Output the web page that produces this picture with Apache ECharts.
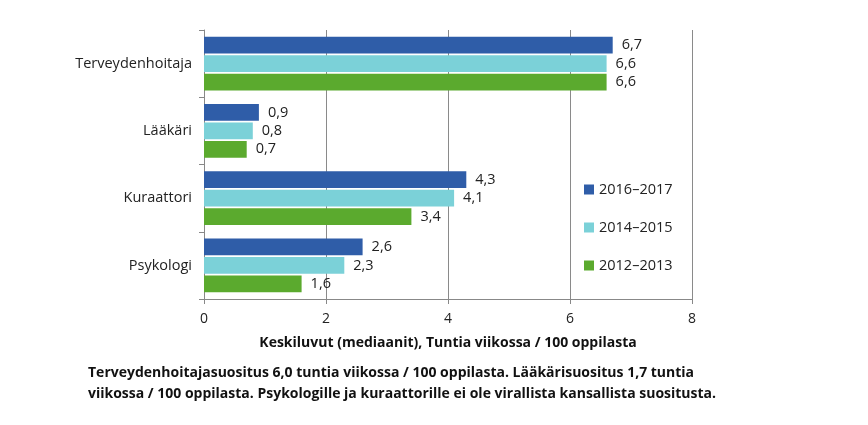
<!DOCTYPE html>
<html><head><meta charset="utf-8">
<script src="https://cdn.jsdelivr.net/npm/echarts@6/dist/echarts.min.js"></script>
<style>html,body{margin:0;padding:0;background:#fff}#c{width:868px;height:425px}</style>
</head><body><div id="c"></div>
<script>
const categories = ['Terveydenhoitaja', 'Lääkäri', 'Kuraattori', 'Psykologi'];
const seriesNames = ['2016–2017', '2014–2015', '2012–2013'];
const v2016 = [6.7, 0.9, 4.3, 2.6];
const v2014 = [6.6, 0.8, 4.1, 2.3];
const v2012 = [6.6, 0.7, 3.4, 1.6];
const xTicks = [0, 2, 4, 6, 8];
const xTitle = 'Keskiluvut (mediaanit), Tuntia viikossa / 100 oppilasta';
const footnote = ['Terveydenhoitajasuositus 6,0 tuntia viikossa / 100 oppilasta. Lääkärisuositus 1,7 tuntia',
  'viikossa / 100 oppilasta. Psykologille ja kuraattorille ei ole virallista kansallista suositusta.'];

const colors = ['#2F5DA8', '#7BD1D8', '#5BAA2E'];
const font = '"Open Sans", Lato, sans-serif';
const values = [v2016, v2014, v2012];
const chart = echarts.init(document.getElementById('c'));
chart.setOption({
  animation: false,
  textStyle: { fontFamily: font },
  grid: { left: 204, right: 176, top: 30, bottom: 126 },
  legend: {
    orient: 'vertical', left: 579, top: 177, itemGap: 23,
    itemWidth: 10, itemHeight: 10, icon: 'rect',
    textStyle: { fontSize: 14.5, color: '#222', fontFamily: font },
    data: seriesNames
  },
  xAxis: {
    type: 'value', min: xTicks[0], max: xTicks[xTicks.length - 1], interval: 2,
    axisLine: { show: true, lineStyle: { color: '#888' } },
    axisTick: { show: true, length: 5, lineStyle: { color: '#888' } },
    splitLine: { show: true, lineStyle: { color: '#8a8a8a', width: 1 } },
    axisLabel: { fontSize: 14, color: '#222', margin: 13, fontFamily: font },
    name: xTitle, nameLocation: 'middle', nameGap: 37,
    nameTextStyle: { fontSize: 14, fontWeight: 'bold', color: '#111', fontFamily: font }
  },
  yAxis: {
    type: 'category', data: categories, inverse: true,
    axisLine: { show: true, lineStyle: { color: '#888' } },
    axisTick: { show: true, length: 5, lineStyle: { color: '#888' } },
    axisLabel: { fontSize: 14.5, color: '#222', margin: 12, fontFamily: font }
  },
  series: seriesNames.map((n, i) => ({
    name: n, type: 'bar', data: values[i],
    itemStyle: { color: colors[i] },
    barGap: '10%', barCategoryGap: '20%',
    label: {
      show: true, position: 'right', distance: 9,
      fontSize: 14.5, color: '#222', fontFamily: font,
      formatter: p => p.value.toFixed(1).replace('.', ',')
    }
  })),
  graphic: [{
    type: 'text', left: 88, top: 363,
    style: { text: footnote.join('\n'), font: 'bold 14px ' + font, fill: '#111', lineHeight: 21 }
  }]
});
</script></body></html>
